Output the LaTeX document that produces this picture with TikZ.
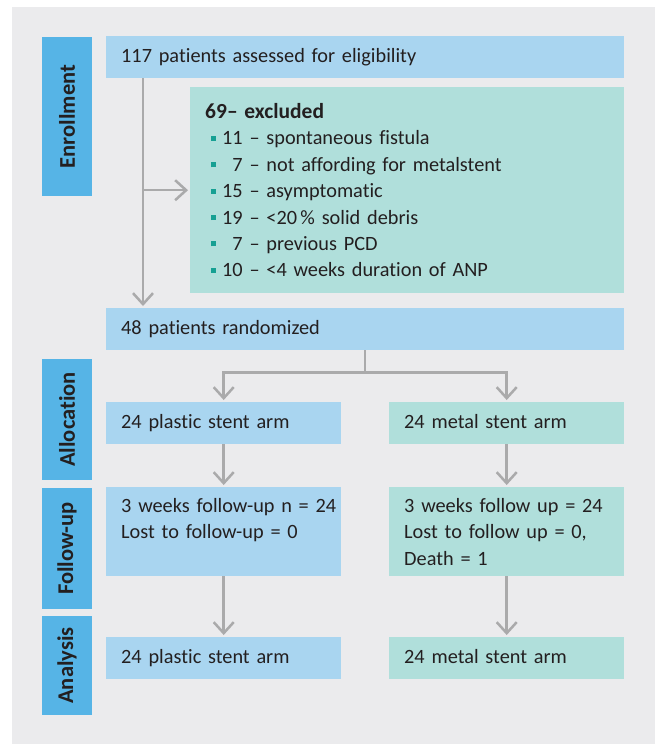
\documentclass[tikz,border=0pt]{standalone}
\usepackage{fontspec}
\setmainfont{Carlito}[Ligatures=NoCommon]
\usetikzlibrary{arrows.meta}

\definecolor{panelgray}{HTML}{EBEBED}
\definecolor{sideblue}{HTML}{56B4E6}
\definecolor{boxblue}{HTML}{A9D5F0}
\definecolor{boxteal}{HTML}{B0DFDB}
\definecolor{linegray}{HTML}{AAAAAB}
\definecolor{dotteal}{HTML}{16A093}
\definecolor{inkdark}{HTML}{231F20}

% small teal square in front of each exclusion reason
\newcommand{\exitem}[1]{\hspace*{6pt}\textcolor{dotteal}{\rule[4pt]{5pt}{5pt}}\hspace{6pt}#1}

\begin{document}
\begin{tikzpicture}[
    x=1pt, y=-1pt,
    box/.style={rectangle, inner xsep=15pt, inner ysep=0pt, align=left, anchor=north west, text=inkdark, font=\fontsize{20.3}{26.4}\selectfont},
    bluebox/.style={box, fill=boxblue},
    tealbox/.style={box, fill=boxteal},
    % single line boxes: fixed text height so all of them sit at the same level
    oneline/.style={minimum height=42pt, text height=15.5pt, text depth=4.5pt},
    % phase labels on the left, turned to read upwards
    side/.style={rectangle, fill=sideblue, rotate=90, minimum height=50pt, inner sep=0pt, text=inkdark, font=\fontsize{22.5}{22.5}\bfseries\selectfont},
    flow/.style={draw=linegray, line width=2.5pt, -{Straight Barb[length=11pt,width=20pt]}, shorten >=2pt}
  ]
    \useasboundingbox (0,0) rectangle (655,744);
    \fill[panelgray] (12,7) rectangle (655,744);

    %--- Phase column
    \node[side, minimum width=159pt] (enroll) at (67,116.5) {Enrollment};
    \node[side, minimum width=121pt] (alloc) at (67,419.5) {Allocation};
    \node[side, minimum width=121pt] (follow) at (67,548.5) {Follow-up};
    \node[side, minimum width=99pt] (analysis) at (67,665.5) {Analysis};

    %--- Enrollment
    \node[bluebox, oneline, text width=488pt] (assess) at (106,36) {117 patients assessed for eligibility};
    \node[tealbox, text width=404pt, minimum height=206pt] (excl) at (190,87) {%
      {\fontsize{21.5}{26.4}\bfseries\selectfont 69– excluded}\\
      \exitem{11 – spontaneous fistula}\\
      \exitem{\phantom{1}7 – not affording for metalstent}\\
      \exitem{15 – asymptomatic}\\
      \exitem{19 – <20\,\% solid debris}\\
      \exitem{\phantom{1}7 – previous PCD}\\
      \exitem{10 – <4 weeks duration of ANP}%
    };
    \node[bluebox, oneline, text width=488pt] (rand) at (106,308) {48 patients randomized};

    %--- Two arms, one column each
    \node[bluebox, oneline, text width=205pt] (plastic) at (106,402) {24 plastic stent arm};
    \node[tealbox, oneline, text width=205pt] (metal) at (389,402) {24 metal stent arm};

    \node[bluebox, text width=205pt, minimum height=89pt] (plastic_fu) at (106,487) {%
      \mbox{3 weeks follow-up n = 24}\\
      Lost to follow-up = 0\\
      \mbox{}};
    \node[tealbox, text width=205pt, minimum height=89pt] (metal_fu) at (389,487) {%
      \mbox{3 weeks follow up = 24}\\
      Lost to follow up = 0,\\
      Death = 1};

    \node[bluebox, oneline, text width=205pt] (plastic_an) at (106,637) {24 plastic stent arm};
    \node[tealbox, oneline, text width=205pt] (metal_an) at (389,637) {24 metal stent arm};

    %--- Connectors
    \coordinate (trunk) at ([xshift=37pt]assess.south west);
    \draw[flow] (trunk) -- (trunk |- rand.north);
    \draw[flow] (trunk |- excl.west) -- (excl.west);

    \draw[flow] (rand.south) -- ++(0,22) -| (plastic.north);
    \draw[flow] (rand.south) -- ++(0,22) -| (metal.north);

    \draw[flow] (plastic.south) -- (plastic_fu.north);
    \draw[flow] (metal.south) -- (metal_fu.north);
    \draw[flow] (plastic_fu.south) -- (plastic_an.north);
    \draw[flow] (metal_fu.south) -- (metal_an.north);
  \end{tikzpicture}
\end{document}
